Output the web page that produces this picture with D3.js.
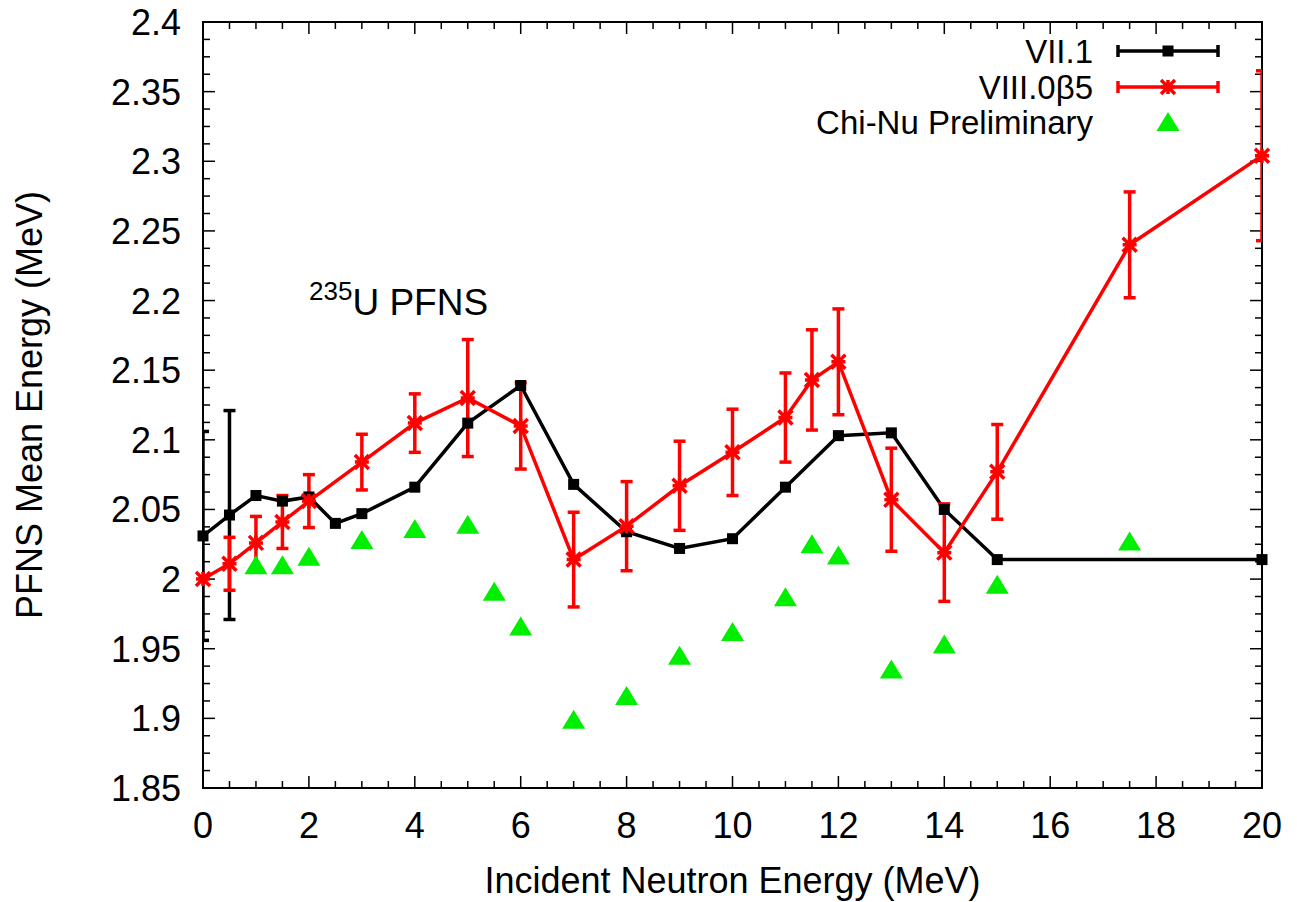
<!DOCTYPE html>
<html>
<head>
<meta charset="utf-8">
<script src="https://cdn.jsdelivr.net/npm/d3@7"></script>
<style>
  body { margin: 0; background: #fff; }
  text { font-family: "Liberation Sans", Arial, sans-serif; }
</style>
</head>
<body>
<div class="container"></div>
<script>
// ENDF/B-VII.1
const vii1E   = [0, 0.5, 1, 1.5, 2, 2.5, 3, 4, 5, 6, 7, 8, 9, 10, 11, 12, 13, 14, 15, 20];
const vii1Val = [2.031, 2.046, 2.060, 2.056, 2.059, 2.040, 2.047, 2.066, 2.112, 2.139, 2.068, 2.034, 2.022, 2.029, 2.066, 2.103, 2.105, 2.050, 2.014, 2.014];
const vii1Err = [0.075, 0.075, 0, 0, 0, 0, 0, 0, 0, 0, 0, 0, 0, 0, 0, 0, 0, 0, 0, 0];

// ENDF/B-VIII.0beta5
const viiiE   = [0, 0.5, 1, 1.5, 2, 3, 4, 5, 6, 7, 8, 9, 10, 11, 11.5, 12, 13, 14, 15, 17.5, 20];
const viiiVal = [2.000, 2.011, 2.026, 2.041, 2.056, 2.084, 2.112, 2.130, 2.110, 2.014, 2.038, 2.067, 2.091, 2.116, 2.143, 2.156, 2.057, 2.019, 2.077, 2.240, 2.304];
const viiiErr = [0, 0.019, 0.019, 0.019, 0.019, 0.020, 0.021, 0.042, 0.031, 0.034, 0.032, 0.032, 0.031, 0.032, 0.036, 0.038, 0.037, 0.035, 0.034, 0.038, 0.061];

// Chi-Nu preliminary
const chinuE   = [1, 1.5, 2, 3, 4, 5, 5.5, 6, 7, 8, 9, 10, 11, 11.5, 12, 13, 14, 15, 17.5];
const chinuVal = [2.010, 2.010, 2.016, 2.028, 2.036, 2.039, 1.991, 1.966, 1.899, 1.916, 1.945, 1.962, 1.987, 2.025, 2.017, 1.935, 1.953, 1.996, 2.027];

const xTicks = [0, 2, 4, 6, 8, 10, 12, 14, 16, 18, 20];
const yTicks = [1.85, 1.9, 1.95, 2, 2.05, 2.1, 2.15, 2.2, 2.25, 2.3, 2.35, 2.4];

const width = 1297;
const height = 902;
const mLeft = 203, mRight = 1262, mTop = 22, mBottom = 788;
const fs = 36;

const svg = d3.select("div.container")
    .append("svg")
    .attr("width", width)
    .attr("height", height);

const x = d3.scaleLinear().domain([0, 20]).range([mLeft, mRight]);
const y = d3.scaleLinear().domain([1.85, 2.4]).range([mBottom, mTop]);

svg.append("clipPath").attr("id", "plot")
    .append("rect")
    .attr("x", mLeft).attr("y", mTop)
    .attr("width", mRight - mLeft).attr("height", mBottom - mTop);

// minor + major ticks, pointing inward, mirrored
const ticks = svg.append("g").attr("stroke", "#000").attr("stroke-width", 1.5);
const xMinor = d3.range(0, 41).map(i => i * 0.5);
const yMinor = d3.range(0, 45).map(i => 1.85 + i * 0.0125);
xMinor.forEach(function(v, i) {
    const len = i % 4 === 0 ? 12 : 7;
    ticks.append("line").attr("x1", x(v)).attr("x2", x(v)).attr("y1", mBottom).attr("y2", mBottom - len);
    ticks.append("line").attr("x1", x(v)).attr("x2", x(v)).attr("y1", mTop).attr("y2", mTop + len);
});
yMinor.forEach(function(v, i) {
    const len = i % 4 === 0 ? 12 : 7;
    ticks.append("line").attr("x1", mLeft).attr("x2", mLeft + len).attr("y1", y(v)).attr("y2", y(v));
    ticks.append("line").attr("x1", mRight).attr("x2", mRight - len).attr("y1", y(v)).attr("y2", y(v));
});

svg.append("rect")
    .attr("x", mLeft).attr("y", mTop)
    .attr("width", mRight - mLeft).attr("height", mBottom - mTop)
    .attr("fill", "none").attr("stroke", "#000").attr("stroke-width", 2);

// tick labels
svg.append("g").selectAll("text")
    .data(xTicks)
    .enter()
    .append("text")
    .attr("x", d => x(d))
    .attr("y", 838)
    .attr("text-anchor", "middle")
    .attr("font-size", fs)
    .text(d => d);

svg.append("g").selectAll("text")
    .data(yTicks)
    .enter()
    .append("text")
    .attr("x", 181)
    .attr("y", d => y(d) + 13)
    .attr("text-anchor", "end")
    .attr("font-size", fs)
    .text(d => d3.format("~g")(d));

svg.append("text")
    .attr("x", (mLeft + mRight) / 2).attr("y", 893)
    .attr("text-anchor", "middle").attr("font-size", fs)
    .text("Incident Neutron Energy (MeV)");

svg.append("text")
    .attr("transform", "translate(42," + ((mTop + mBottom) / 2) + ") rotate(-90)")
    .attr("text-anchor", "middle").attr("font-size", fs)
    .text("PFNS Mean Energy (MeV)");

const note = svg.append("text").attr("x", 309).attr("y", 315).attr("font-size", 37);
note.append("tspan").attr("font-size", 26).attr("dy", -15).text("235");
note.append("tspan").attr("dy", 15).text("U PFNS");

const plot = svg.append("g").attr("clip-path", "url(#plot)");
const marks = svg.append("g");

const line = d3.line().x(d => x(d[0])).y(d => y(d[1]));

function errorBars(g, es, vs, errs) {
    es.forEach(function(e, i) {
        if (!errs[i]) return;
        const cx = x(e), y1 = y(vs[i] + errs[i]), y2 = y(vs[i] - errs[i]);
        g.append("line").attr("x1", cx).attr("x2", cx).attr("y1", y1).attr("y2", y2);
        g.append("line").attr("x1", cx - 6).attr("x2", cx + 6).attr("y1", y1).attr("y2", y1);
        g.append("line").attr("x1", cx - 6).attr("x2", cx + 6).attr("y1", y2).attr("y2", y2);
    });
}

function star(g, cx, cy) {
    const r = 7;
    g.append("path")
        .attr("d", "M" + (cx - r) + "," + cy + "H" + (cx + r) +
                   "M" + cx + "," + (cy - r) + "V" + (cy + r) +
                   "M" + (cx - r) + "," + (cy - r) + "L" + (cx + r) + "," + (cy + r) +
                   "M" + (cx - r) + "," + (cy + r) + "L" + (cx + r) + "," + (cy - r));
}

function triangle(g, cx, cy) {
    g.append("path")
        .attr("d", "M" + cx + "," + (cy - 10) + "L" + (cx + 11.5) + "," + (cy + 9) + "L" + (cx - 11.5) + "," + (cy + 9) + "Z");
}

// VII.1
const gb = plot.append("g").attr("stroke", "#000").attr("stroke-width", 3.5).attr("fill", "none");
errorBars(gb, vii1E, vii1Val, vii1Err);
gb.append("path").attr("d", line(vii1E.map((e, i) => [e, vii1Val[i]])));
marks.append("g").selectAll("rect")
    .data(vii1E)
    .enter()
    .append("rect")
    .attr("x", d => x(d) - 5.5).attr("y", (d, i) => y(vii1Val[i]) - 5.5)
    .attr("width", 11).attr("height", 11)
    .attr("fill", "#000");

// VIII.0b5
const gr = plot.append("g").attr("stroke", "#ff0000").attr("stroke-width", 3.5).attr("fill", "none");
errorBars(gr, viiiE, viiiVal, viiiErr);
gr.append("path").attr("d", line(viiiE.map((e, i) => [e, viiiVal[i]])));
const grm = marks.append("g").attr("stroke", "#ff0000").attr("stroke-width", 3.5).attr("fill", "none");
viiiE.forEach((e, i) => star(grm, x(e), y(viiiVal[i])));

// Chi-Nu
const gg = marks.append("g").attr("fill", "#00ee00");
chinuE.forEach((e, i) => triangle(gg, x(e), y(chinuVal[i])));

// legend
const legend = svg.append("g");
const labels = ["VII.1", "VIII.0\u03b25", "Chi-Nu Preliminary"];
const ly = [51, 87, 122];
labels.forEach(function(t, i) {
    legend.append("text").attr("x", 1093).attr("y", ly[i] + 12)
        .attr("text-anchor", "end").attr("font-size", 33).text(t);
});
const lb = legend.append("g").attr("stroke", "#000").attr("stroke-width", 3.5);
lb.append("line").attr("x1", 1118).attr("x2", 1218).attr("y1", ly[0]).attr("y2", ly[0]);
lb.append("line").attr("x1", 1118).attr("x2", 1118).attr("y1", ly[0] - 6).attr("y2", ly[0] + 6);
lb.append("line").attr("x1", 1218).attr("x2", 1218).attr("y1", ly[0] - 6).attr("y2", ly[0] + 6);
legend.append("rect").attr("x", 1162.5).attr("y", ly[0] - 5.5).attr("width", 11).attr("height", 11);
const lr = legend.append("g").attr("stroke", "#ff0000").attr("stroke-width", 3.5).attr("fill", "none");
lr.append("line").attr("x1", 1118).attr("x2", 1218).attr("y1", ly[1]).attr("y2", ly[1]);
lr.append("line").attr("x1", 1118).attr("x2", 1118).attr("y1", ly[1] - 6).attr("y2", ly[1] + 6);
lr.append("line").attr("x1", 1218).attr("x2", 1218).attr("y1", ly[1] - 6).attr("y2", ly[1] + 6);
star(lr, 1168, ly[1]);
triangle(legend.append("g").attr("fill", "#00ee00"), 1168, ly[2]);
</script>
</body>
</html>
